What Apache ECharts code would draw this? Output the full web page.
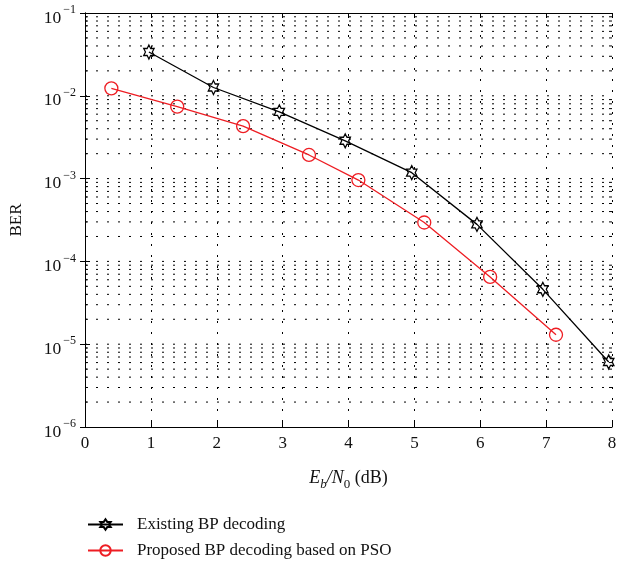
<!DOCTYPE html>
<html><head><meta charset="utf-8">
<script src="https://cdn.jsdelivr.net/npm/echarts@6/dist/echarts.min.js"></script>
<style>html,body{margin:0;padding:0;background:#fff}#c{width:618px;height:565px}</style>
</head><body><div id="c"></div>
<script>
// ---- data ----
const existingX = [0.97, 1.95, 2.95, 3.95, 4.96, 5.95, 6.95, 7.95];
const existingBER = [0.0338, 0.0126, 0.0064, 0.00286, 0.00118, 0.00028, 0.000046, 0.0000061];
const proposedX = [0.4, 1.4, 2.4, 3.4, 4.15, 5.15, 6.15, 7.15];
const proposedBER = [0.0123, 0.0074, 0.0043, 0.00193, 0.00096, 0.000295, 0.000065, 0.000013];
const seriesNames = ['Existing BP decoding', 'Proposed BP decoding based on PSO'];
const xMin = 0, xMax = 8, xStep = 1;
const yDecades = [-6, -5, -4, -3, -2, -1];
const minorMultipliers = [2, 3, 4, 5, 6, 7, 8, 9];

const FONT = '"Liberation Serif", "DejaVu Serif", serif';
const RED = '#ee1d23';
const STAR = 'path://M8.66,0 L11.547,5 L17.32,5 L14.434,10 L17.32,15 L11.547,15 L8.66,20 L5.773,15 L0,15 L2.887,10 L0,5 L5.773,5 Z';

const yMin = Math.pow(10, yDecades[0]);
const yMax = Math.pow(10, yDecades[yDecades.length - 1]);

// grid lines (every 1..9 x 10^k inside the plot), flag minor ones
const gridRows = [];
for (let i = 0; i < yDecades.length - 1; i++) {
  const base = Math.pow(10, yDecades[i]);
  if (i > 0) gridRows.push([base, 0]);
  minorMultipliers.forEach(m => gridRows.push([m * base, 1]));
}

const supLabel = v => {
  const e = Math.round(Math.log10(v));
  return '{b|10}{s|' + (e < 0 ? '\u2212' + (-e) : e) + '}';
};

const chart = echarts.init(document.getElementById('c'), null, {renderer: 'canvas'});
const axisCommon = {
  axisLine: {show: true, lineStyle: {color: '#000', width: 1}},
  axisTick: {show: true, inside: true, length: 5, lineStyle: {color: '#000'}},
};
chart.setOption({
  animation: false,
  backgroundColor: '#fff',
  textStyle: {fontFamily: FONT},
  grid: {left: 85, right: 6, top: 13, bottom: 138, containLabel: false, outerBoundsMode: 'none'},
  legend: {
    data: seriesNames,
    orient: 'vertical',
    left: 82, top: 511,
    itemWidth: 35, itemHeight: 13, itemGap: 9,
    textStyle: {fontFamily: FONT, fontSize: 17, color: '#111', padding: [0, 0, 0, 9]},
  },
  xAxis: [
    Object.assign({}, axisCommon, {
      type: 'value', min: xMin, max: xMax, interval: xStep, position: 'bottom',
      axisLabel: {fontFamily: FONT, fontSize: 17, color: '#111', margin: 8},
      splitLine: {show: true, lineStyle: {color: '#000', type: [2, 9], width: 1}},
      name: '{i|E}{si|b}{i|/N}{sn|0}{r| (dB)}',
      nameLocation: 'middle', nameGap: 38,
      nameTextStyle: {
        rich: {
          i: {fontFamily: FONT, fontStyle: 'italic', fontSize: 18, color: '#111', lineHeight: 26},
          si: {fontFamily: FONT, fontStyle: 'italic', fontSize: 13, color: '#111', verticalAlign: 'bottom', lineHeight: 14},
          sn: {fontFamily: FONT, fontSize: 13, color: '#111', verticalAlign: 'bottom', lineHeight: 14},
          r: {fontFamily: FONT, fontSize: 18, color: '#111', lineHeight: 26},
        }
      }
    }),
    Object.assign({}, axisCommon, {
      type: 'value', min: xMin, max: xMax, interval: xStep, position: 'top',
      axisLabel: {show: false}, splitLine: {show: false}
    })
  ],
  yAxis: [
    Object.assign({}, axisCommon, {
      type: 'log', logBase: 10, min: yMin, max: yMax, position: 'left',
      splitNumber: 5,
      axisLabel: {
        formatter: supLabel, margin: 9, padding: [10, 0, 0, 0],
        rich: {
          b: {fontFamily: FONT, fontSize: 17.5, color: '#111', lineHeight: 28},
          s: {fontFamily: FONT, fontSize: 12, color: '#111', verticalAlign: 'top', lineHeight: 14, padding: [0, 0, 0, 2]},
        }
      },
      splitLine: {show: false},
      name: 'BER', nameLocation: 'middle', nameGap: 60,
      nameTextStyle: {fontFamily: FONT, fontSize: 17, color: '#111'}
    }),
    Object.assign({}, axisCommon, {
      type: 'log', logBase: 10, min: yMin, max: yMax, position: 'right',
      splitNumber: 5,
      axisLabel: {show: false}, splitLine: {show: false}
    })
  ],
  series: [
    {
      type: 'custom', name: '_grid', silent: true, z: 1,
      xAxisIndex: 0, yAxisIndex: 0,
      data: gridRows.map(r => [xMin, r[0], r[1]]),
      encode: {x: 0, y: 1},
      clip: false,
      renderItem: function (params, api) {
        const v = api.value(1);
        const minor = api.value(2);
        const p0 = api.coord([xMin, v]);
        const p1 = api.coord([xMax, v]);
        const children = [{
          type: 'line',
          shape: {x1: p0[0], y1: p0[1], x2: p1[0], y2: p1[1]},
          style: {stroke: '#000', lineWidth: 1, lineDash: [2, 9]}
        }];
        if (minor) {
          children.push({type: 'line', shape: {x1: p0[0], y1: p0[1], x2: p0[0] + 3, y2: p0[1]}, style: {stroke: '#000', lineWidth: 1}});
          children.push({type: 'line', shape: {x1: p1[0] - 3, y1: p1[1], x2: p1[0], y2: p1[1]}, style: {stroke: '#000', lineWidth: 1}});
        }
        return {type: 'group', children: children};
      }
    },
    {
      type: 'line', name: seriesNames[0], z: 3,
      data: existingX.map((x, i) => [x, existingBER[i]]),
      symbol: STAR, symbolSize: [12, 14], symbolKeepAspect: true,
      lineStyle: {color: '#000', width: 1.3},
      itemStyle: {color: 'rgba(255,255,255,0)', borderColor: '#000', borderWidth: 1.3},
    },
    {
      type: 'line', name: seriesNames[1], z: 3,
      data: proposedX.map((x, i) => [x, proposedBER[i]]),
      symbol: 'circle', symbolSize: 13,
      lineStyle: {color: RED, width: 1.3},
      itemStyle: {color: 'rgba(255,255,255,0)', borderColor: RED, borderWidth: 1.3},
    }
  ]
});
</script>
</body></html>
